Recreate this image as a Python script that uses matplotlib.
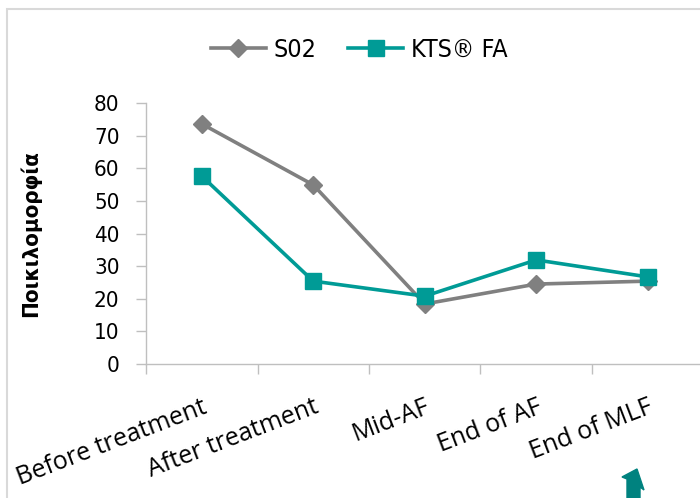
import matplotlib
matplotlib.use("Agg")
import matplotlib.pyplot as plt
from matplotlib.patches import Polygon, Rectangle
from matplotlib.font_manager import FontProperties

categories = ["Before treatment", "After treatment", "Mid-AF", "End of AF", "End of MLF"]
so2 = [73.6, 54.9, 18.4, 24.5, 25.4]
kts = [57.6, 25.4, 20.8, 31.9, 26.7]
yticks = [0, 10, 20, 30, 40, 50, 60, 70, 80]

W, H = 700, 498
fig = plt.figure(figsize=(7, 4.98), dpi=100)

cond = dict(family="DejaVu Sans", stretch="condensed")

# light frame
fig.add_artist(Rectangle((7 / W, -0.1), 1.2, 1 - 9 / H + 0.1, transform=fig.transFigure,
                         fill=False, edgecolor="#d9d9d9", linewidth=1.5))

ax = fig.add_axes([146 / W, 1 - 364 / H, (703.5 - 146) / W, (364 - 103) / H])
x = list(range(len(categories)))
ax.plot(x, so2, color="#808080", lw=2.6, marker="D", ms=9, label="S02", clip_on=False, zorder=3)
ax.plot(x, kts, color="#009b96", lw=2.6, marker="s", ms=11, label="KTS® FA", clip_on=False, zorder=4)

ax.set_xlim(-0.5, 4.5)
ax.set_ylim(0, 80)
ax.set_yticks(yticks)
ax.set_yticklabels([str(v) for v in yticks], fontproperties=FontProperties(size=16, **cond))
ax.set_xticks(x)
ax.set_xticklabels(categories, rotation=21, ha="right", rotation_mode="anchor",
                   fontfamily="Open Sans", fontsize=18)
ax.set_xticks([i - 0.5 for i in range(len(categories) + 1)], minor=True)
ax.tick_params(axis="x", which="major", length=0, pad=22)
ax.tick_params(axis="x", which="minor", length=7, color="#bfbfbf", width=1)
ax.tick_params(axis="y", length=7, color="#bfbfbf", width=1, pad=12)
for s in ["top", "right"]:
    ax.spines[s].set_visible(False)
for s in ["left", "bottom"]:
    ax.spines[s].set_color("#bfbfbf")
    ax.spines[s].set_linewidth(1)

fig.text(30 / W, 1 - 234 / H, "Ποικιλομορφία", rotation=90, ha="center", va="center",
         fontproperties=FontProperties(size=16, weight="bold", **cond))

leg = fig.legend(loc="center", bbox_to_anchor=(359 / W, 1 - 50 / H), ncol=2, frameon=False,
                 prop=FontProperties(size=18, **cond), handlelength=2.2, columnspacing=1.3,
                 handletextpad=0.3)

# teal arrow decoration at bottom
pts = [(622, 477), (637, 469), (644, 490), (640, 487), (640, 499), (627, 499), (627, 479)]
fig.add_artist(Polygon([(px / W, 1 - py / H) for px, py in pts], closed=True,
                       transform=fig.transFigure, color="#00827f"))

fig.savefig("out.png", dpi=100)
